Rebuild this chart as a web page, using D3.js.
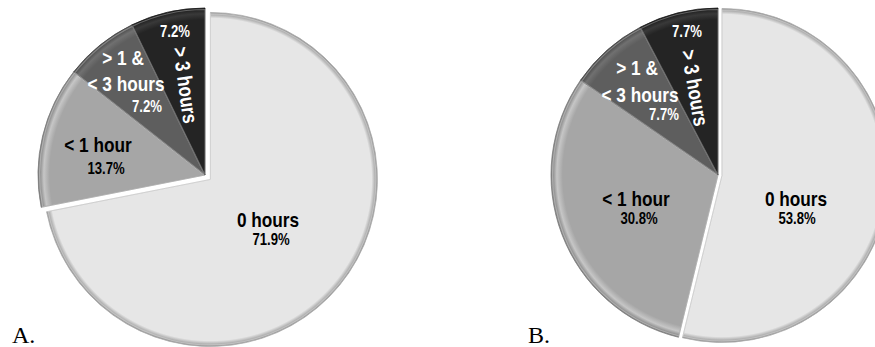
<!DOCTYPE html>
<html>
<head>
<meta charset="utf-8">
<script src="https://cdn.jsdelivr.net/npm/d3@7"></script>
<style>
  html, body { margin: 0; padding: 0; background: #fff; }
  svg { display: block; }
</style>
</head>
<body>
<svg id="chart" width="875" height="347"></svg>
<script>
// ---- data ----
const categories = ["0 hours", "< 1 hour", "> 1 & < 3 hours", "> 3 hours"];
const valuesA = [71.9, 13.7, 7.2, 7.2];
const valuesB = [53.8, 30.8, 7.7, 7.7];
const panelLabels = ["A.", "B."];

// ---- style / layout ----
const colors = ["#e6e6e6", "#a6a6a6", "#5e5e5e", "#242424"];
const textColors = ["#000", "#000", "#fff", "#fff"];
const R = 167;
const panels = [
  { values: valuesA, cx: 205, cy: 175, explode: 7, tagX: 12,
    layout: [
      { lines: [["0 hours", 63, 52]], val: [66, 70] },
      { lines: [["< 1 hour", -107, -23]], val: [-99, -1] },
      { lines: [["> 1 &", -82, -110], ["< 3 hours", -79, -84]], val: [-58, -63] },
      { rot: [-19.5, -90, 82], val: [-30, -138] }
    ] },
  { values: valuesB, cx: 718, cy: 175, explode: 4, tagX: 528,
    layout: [
      { lines: [["0 hours", 78, 31]], val: [79, 49] },
      { lines: [["< 1 hour", -82, 31]], val: [-79, 49] },
      { lines: [["> 1 &", -81, -100], ["< 3 hours", -78, -73]], val: [-54, -55] },
      { rot: [-23, -87, 80], val: [-31, -138] }
    ] }
];

const svg = d3.select("#chart");
const defs = svg.append("defs");

// rim bevel gradients per colour
colors.forEach((c, i) => {
  const base = d3.color(c);
  const g = defs.append("radialGradient")
    .attr("id", "rim" + i)
    .attr("gradientUnits", "userSpaceOnUse")
    .attr("cx", 0).attr("cy", 0).attr("r", R);
  const hi = i === 0 ? base : base.brighter(i === 3 ? 1.3 : 0.5);
  const lo = base.darker(i === 0 ? 1.4 : 1.0);
  g.append("stop").attr("offset", 0).attr("stop-color", base.formatHex());
  g.append("stop").attr("offset", 0.93).attr("stop-color", base.formatHex());
  g.append("stop").attr("offset", 0.965).attr("stop-color", d3.color(hi).formatHex());
  g.append("stop").attr("offset", 1).attr("stop-color", lo.formatHex());
});

const pie = d3.pie().sort(null).value(d => d).startAngle(0).endAngle(2 * Math.PI);
const arc = d3.arc().innerRadius(0).outerRadius(R);

const fontFam = "'Liberation Sans Narrow', 'Arial Narrow', 'Liberation Sans', Arial, sans-serif";
const allTexts = [];

panels.forEach((p, pi) => {
  const root = svg.append("g").attr("transform", `translate(${p.cx},${p.cy})`);
  const arcs = pie(p.values);

  arcs.forEach((a, i) => {
    const mid = (a.startAngle + a.endAngle) / 2;
    const off = i === 0 ? p.explode : 0;
    const g = root.append("g")
      .attr("transform", `translate(${off * Math.sin(mid)},${-off * Math.cos(mid)})`);
    g.append("path").attr("d", arc(a)).attr("fill", `url(#rim${i})`)
      .attr("stroke", d3.color(colors[i]).darker(0.8).formatHex())
      .attr("stroke-width", 0.8).attr("stroke-linejoin", "round");
    g.append("path").attr("d", d3.arc().innerRadius(0).outerRadius(R - 1.5)(a))
      .attr("fill", "none")
      .attr("stroke", "rgba(255,255,255,0.3)")
      .attr("stroke-width", 1.2);
  });

  arcs.forEach((a, i) => {
    const L = p.layout[i];
    const val = a.data.toFixed(1) + "%";
    const col = textColors[i];
    if (L.lines) {
      L.lines.forEach(([txt, dx, dy]) => {
        allTexts.push(root.append("text").attr("x", dx).attr("y", dy)
          .attr("text-anchor", "middle").attr("font-family", fontFam)
          .attr("font-weight", "bold").attr("font-size", 21)
          .attr("fill", col).text(txt));
      });
    } else {
      const [dx, dy, rot] = L.rot;
      allTexts.push(root.append("text")
        .attr("transform", `translate(${dx},${dy}) rotate(${rot})`)
        .attr("dy", "0.35em")
        .attr("text-anchor", "middle").attr("font-family", fontFam)
        .attr("font-weight", "bold").attr("font-size", 21)
        .attr("fill", col).text(categories[i]));
    }
    allTexts.push(root.append("text").attr("x", L.val[0]).attr("y", L.val[1])
      .attr("text-anchor", "middle").attr("font-family", fontFam)
      .attr("font-weight", "bold").attr("font-size", 16)
      .attr("fill", col).text(val));
  });

  svg.append("text").attr("x", p.tagX).attr("y", 343)
    .attr("font-family", "'Liberation Serif', 'Times New Roman', serif")
    .attr("font-size", 24).attr("fill", "#000").text(panelLabels[pi]);
});

const probe = allTexts[0];
if (probe.node().getComputedTextLength() > 70) {
  allTexts.forEach(t => {
    const w = t.node().getComputedTextLength();
    t.attr("textLength", w * 0.82).attr("lengthAdjust", "spacingAndGlyphs");
  });
}
</script>
</body>
</html>
